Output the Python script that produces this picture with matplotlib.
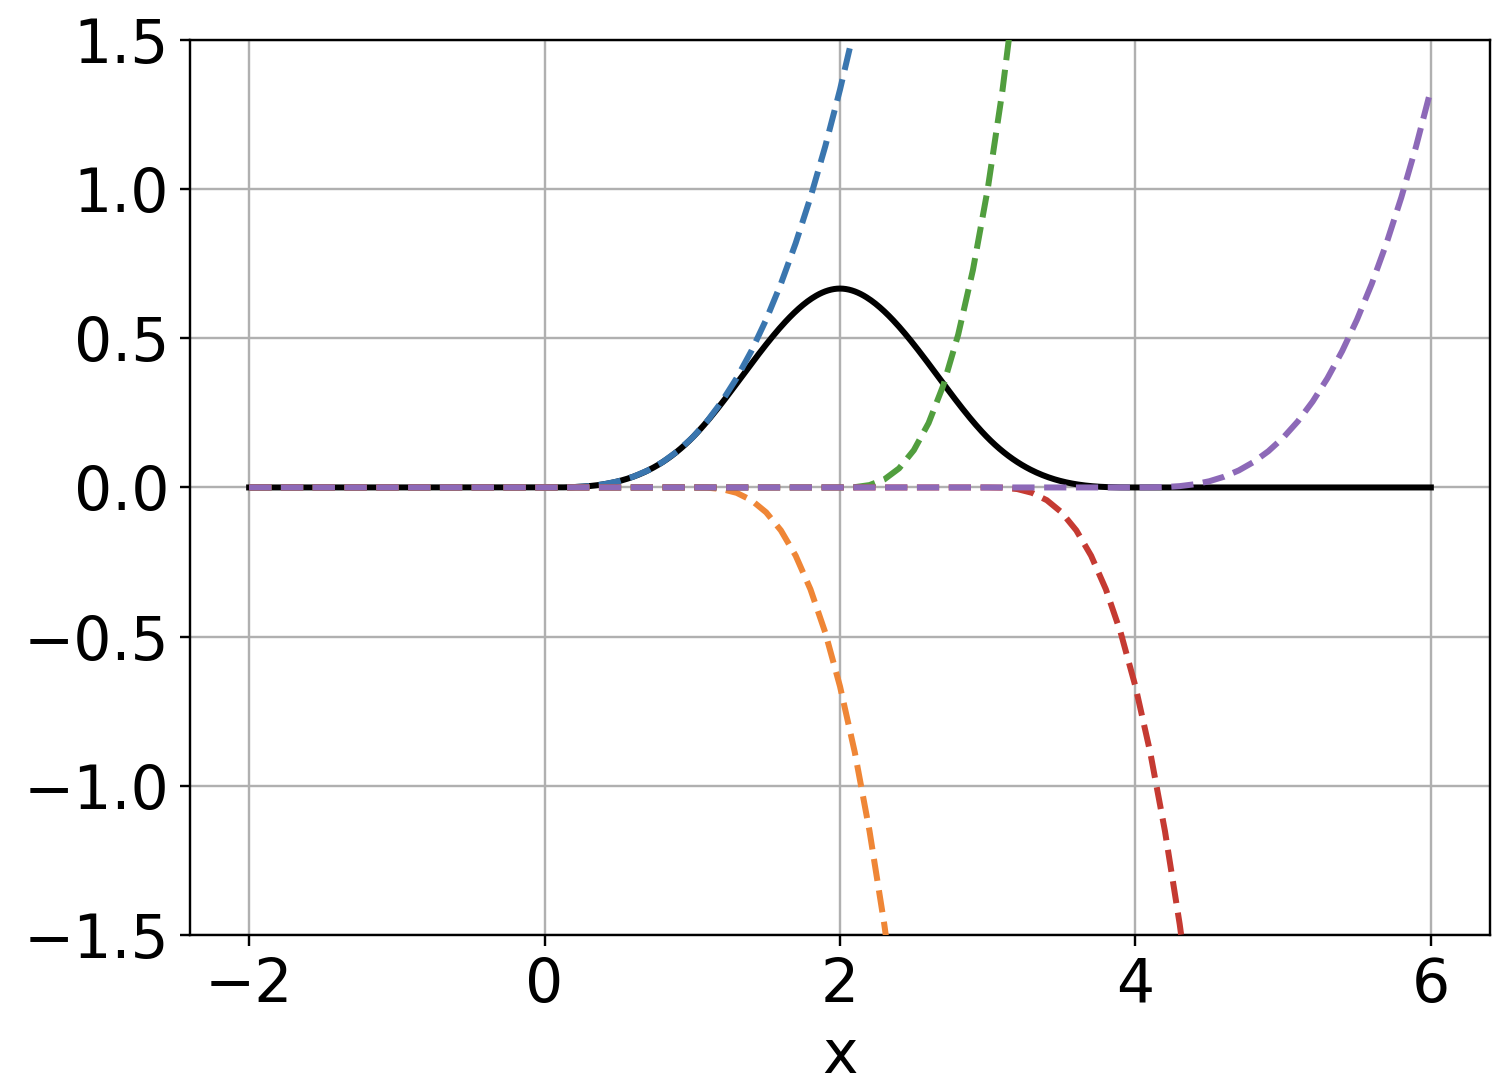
import numpy as np
import matplotlib
matplotlib.use("Agg")
import matplotlib.pyplot as plt

# Knots and coefficients of the truncated-power representation of the cubic B-spline
knots = [0, 1, 2, 3, 4]
coefs = [1 / 6, -4 / 6, 6 / 6, -4 / 6, 1 / 6]
colors = ["#3a76af", "#ef8636", "#519e3e", "#c53a32", "#8d69b8"]
x_range = [-2, 6]
y_limits = [-1.5, 1.5]
x_ticks = [-2, 0, 2, 4, 6]
y_ticks = [-1.5, -1.0, -0.5, 0.0, 0.5, 1.0, 1.5]

plt.rcParams["font.size"] = 20
fig = plt.figure(figsize=(7, 5), dpi=216)
ax = fig.add_axes([0.1257, 0.1343, 0.9854 - 0.1257, 0.963 - 0.1343])

def truncated_terms(xv):
    return [c * np.clip(xv - k, 0, None) ** 3 for k, c in zip(knots, coefs)]

x_fine = np.linspace(x_range[0], x_range[1], 801)
bspline = np.sum(truncated_terms(x_fine), axis=0)
bspline[np.abs(bspline) < 1e-12] = 0.0

x = np.linspace(x_range[0], x_range[1], 81)
terms = truncated_terms(x)

ax.plot(x_fine, bspline, color="black", lw=2, zorder=2)
for t, col in zip(terms, colors):
    ax.plot(x, t, "--", color=col, lw=2, zorder=3)

ax.set_ylim(*y_limits)
ax.set_xticks(x_ticks)
ax.set_yticks(y_ticks)
ax.grid(True)
ax.set_xlabel("x")

fig.savefig("out.png", dpi=216)
